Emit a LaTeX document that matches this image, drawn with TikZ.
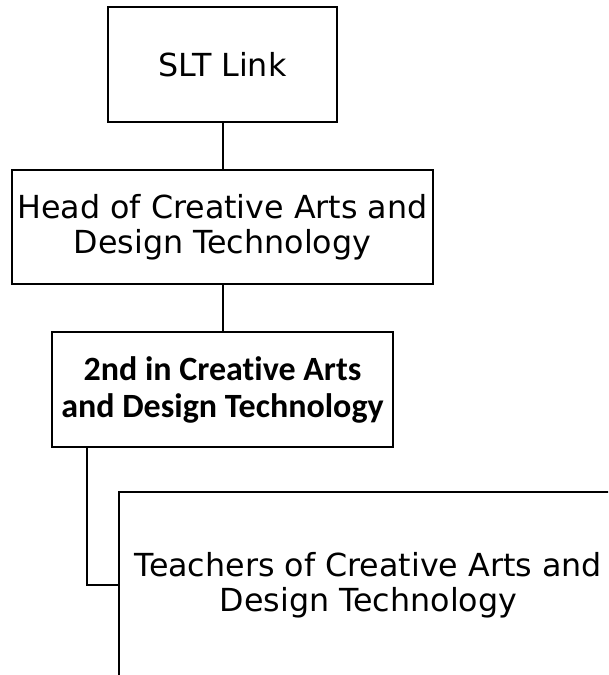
\documentclass[tikz,border=0pt]{standalone}
\usepackage{fontspec}
\setmainfont{DejaVu Sans}
\newfontfamily\carlito{Carlito}[Ligatures=NoCommon]
\usetikzlibrary{positioning}
\tikzset{role/.style={draw, line width=1.5pt, outer sep=0pt, align=center, inner sep=0pt, font=\fontsize{23.8pt}{26.25pt}\selectfont},
  deputy/.style={role, font=\carlito\bfseries\fontsize{25.5pt}{27.75pt}\selectfont},
  link/.style={draw, line width=1.5pt}}

\begin{document}
\begin{tikzpicture}[x=0.75pt, y=-0.75pt, node distance=36pt]
\path[use as bounding box, clip] (0,0) rectangle (608,675);
\node[role, minimum width=171.75pt, minimum height=86.25pt] (slt) at (222.5,64.5) {SLT Link};
\node[role, minimum width=315.75pt, minimum height=85.5pt, below=of slt] (head) {Head of Creative Arts and\\Design Technology};
\node[deputy, minimum width=255.75pt, minimum height=86.25pt, below=of head] (second) {2nd in Creative Arts\\and Design Technology};
\node[role, minimum width=374.25pt, minimum height=139.5pt, below right=33.75pt and 50.25pt of second.south west] (teachers) {Teachers of Creative Arts and\\Design Technology};
\draw[link] (slt) -- (head);
\draw[link] (head) -- (second);
\draw[link] ([xshift=26.25pt]second.south west) |- (teachers);
\end{tikzpicture}
\end{document}
